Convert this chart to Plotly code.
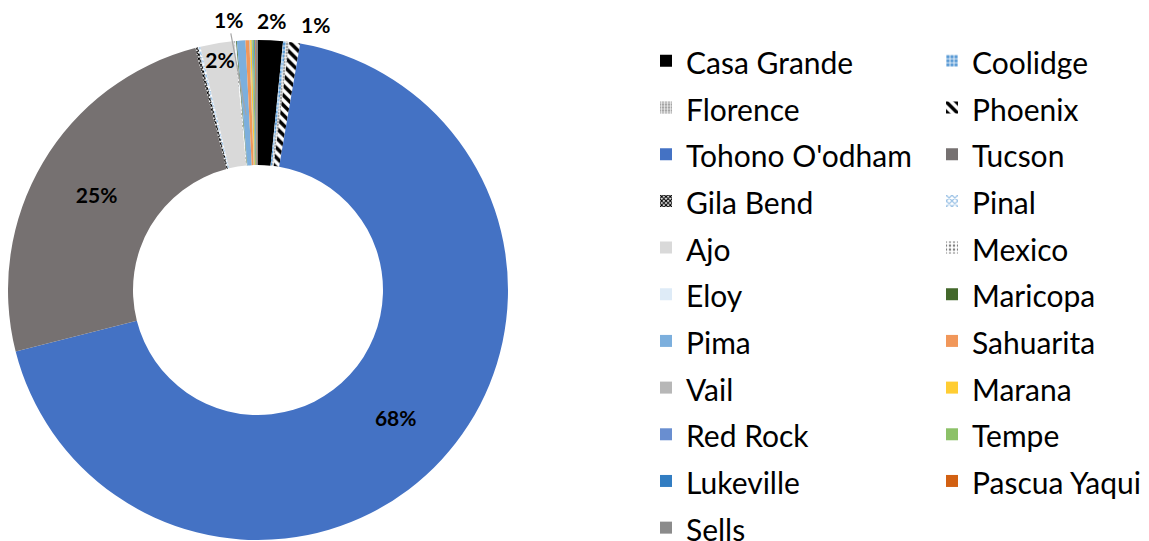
import math
import plotly.graph_objects as go

categories = ["Casa Grande", "Coolidge", "Florence", "Phoenix", "Tohono O'odham", "Tucson",
              "Gila Bend", "Pinal", "Ajo", "Mexico", "Eloy", "Maricopa", "Pima", "Sahuarita",
              "Vail", "Marana", "Red Rock", "Tempe", "Lukeville", "Pascua Yaqui", "Sells"]
shares = [1.6, 0.2, 0.2, 0.7, 68.35, 24.9,
          0.2, 0.15, 2.2, 0.05, 0.05, 0.05, 0.55, 0.25,
          0.05, 0.1, 0.05, 0.1, 0.05, 0.05, 0.15]
inside_labels = ["", "", "", "", "68%", "25%",
                 "", "", "2%", "", "", "", "", "",
                 "", "", "", "", "", "", ""]
outside_labels = {"Casa Grande": "2%", "Phoenix": "1%", "Pima": "1%"}

colors = ["#000000", "#5b9bd5", "#a5a5a5", "#000000", "#4472c4", "#767171",
          "#000000", "#9dc3e6", "#d9d9d9", "#7f7f7f", "#deebf7", "#43682b", "#7cafdd", "#f1975a",
          "#b7b7b7", "#ffcd33", "#698ed0", "#8cc168", "#327dc2", "#d26012", "#8b8b8b"]
pattern_shapes = ["", "+", "+", "\\", "", "", "x", "x", "", ".", "", "", "", "",
                  "", "", "", "", "", "", ""]
pattern_bg = ["#000000", "#5b9bd5", "#a5a5a5", "#ffffff", "#4472c4", "#767171",
              "#ffffff", "#ffffff", "#d9d9d9", "#ffffff", "#deebf7", "#43682b", "#7cafdd", "#f1975a",
              "#b7b7b7", "#ffcd33", "#698ed0", "#8cc168", "#327dc2", "#d26012", "#8b8b8b"]
pattern_fg = ["#000000", "#ffffff", "#ffffff", "#000000", "#4472c4", "#767171",
              "#000000", "#9dc3e6", "#d9d9d9", "#7f7f7f", "#deebf7", "#43682b", "#7cafdd", "#f1975a",
              "#b7b7b7", "#ffcd33", "#698ed0", "#8cc168", "#327dc2", "#d26012", "#8b8b8b"]
pattern_size = [5, 4, 3, 7, 5, 5, 3, 4, 5, 4, 5, 5, 5, 5, 5, 5, 5, 5, 5, 5, 5]
pattern_solidity = [0.4, 0.35, 0.35, 0.5, 0.4, 0.4, 0.6, 0.5, 0.4, 0.3,
                    0.4, 0.4, 0.4, 0.4, 0.4, 0.4, 0.4, 0.4, 0.4, 0.4, 0.4]

W, H = 1149, 541
M_L, M_R = 0, 549
PLOT_W = W - M_L - M_R
DOM_X = [0.0, 500 / PLOT_W]
DOM_Y = [9 / H, 509 / H]

positions = ["inside" if t else "none" for t in inside_labels]
legend_names = ['<span style="font-size:30px">%s</span>' % c for c in categories]

fig = go.Figure(go.Pie(
    labels=legend_names,
    values=shares,
    text=inside_labels,
    textinfo="text",
    textposition=positions,
    insidetextorientation="horizontal",
    textfont=dict(family="Lato", size=21, color="#000000", weight="bold"),
    hole=0.5,
    sort=False,
    direction="clockwise",
    rotation=0,
    marker=dict(
        colors=colors,
        line=dict(width=0),
        pattern=dict(shape=pattern_shapes, bgcolor=pattern_bg, fgcolor=pattern_fg,
                     size=pattern_size, solidity=pattern_solidity, fillmode="replace"),
    ),
    domain=dict(x=DOM_X, y=DOM_Y),
    hovertext=categories,
    hoverinfo="text+percent",
))

# outside data labels placed along each slice's mid-angle
cx_px = M_L + (DOM_X[0] + DOM_X[1]) / 2 * PLOT_W
cy_px = H - (DOM_Y[0] + DOM_Y[1]) / 2 * H
R = min((DOM_X[1] - DOM_X[0]) * PLOT_W, (DOM_Y[1] - DOM_Y[0]) * H) / 2
total = sum(shares)


def to_paper(angle_deg, radius):
    a = math.radians(angle_deg)
    px = cx_px + radius * math.sin(a)
    py = cy_px - radius * math.cos(a)
    return (px - M_L) / PLOT_W, (H - py) / H


label_style = {
    "Casa Grande": dict(r=1.08, xshift=0, yshift=0, leader=False),
    "Phoenix": dict(r=1.08, xshift=18, yshift=-2, leader=False),
    "Pima": dict(r=0.70, xshift=0, yshift=0, leader=True),
}
annotations = []
cum = 0.0
for cat, v in zip(categories, shares):
    mid = 360 * (cum + v / 2) / total
    cum += v
    if cat not in outside_labels:
        continue
    st = label_style[cat]
    x, y = to_paper(mid, st["r"] * R)
    ann = dict(x=x, y=y, xref="paper", yref="paper", text=outside_labels[cat],
               font=dict(family="Lato", size=21, color="#000000", weight="bold"),
               xanchor="center", yanchor="middle",
               xshift=st["xshift"], yshift=st["yshift"])
    if st["leader"]:
        ann.update(showarrow=True, arrowhead=0, arrowwidth=1.2, arrowcolor="#a6a6a6",
                   ax=-18, ay=-96, standoff=0, startstandoff=0)
    else:
        ann.update(showarrow=False)
    annotations.append(ann)

fig.update_layout(
    width=W, height=H,
    margin=dict(l=M_L, r=M_R, t=0, b=0, autoexpand=False),
    paper_bgcolor="white",
    plot_bgcolor="white",
    uniformtext=dict(minsize=21, mode="show"),
    showlegend=True,
    annotations=annotations,
    legend=dict(
        orientation="h",
        x=638 / PLOT_W, xanchor="left",
        y=1 - 24.5 / H, yanchor="top",
        entrywidth=241, entrywidthmode="pixels",
        maxheight=700,
        font=dict(family="Lato", size=33.6, color="#000000"),
        bgcolor="rgba(0,0,0,0)",
    ),
)

fig.write_html("out.html")
